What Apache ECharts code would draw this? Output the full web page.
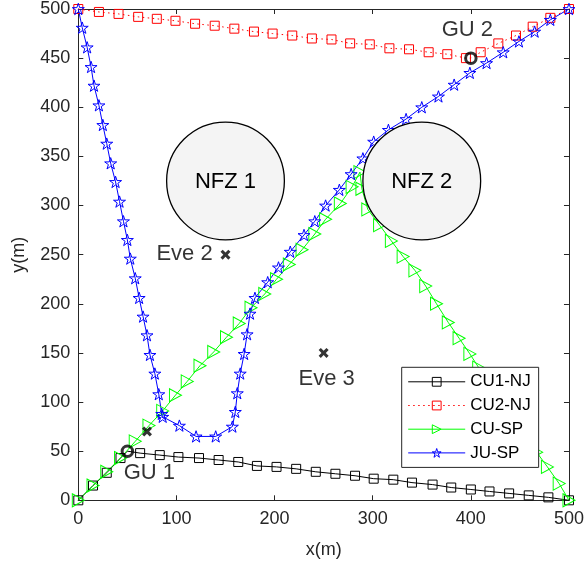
<!DOCTYPE html>
<html>
<head>
<meta charset="utf-8">
<script src="https://cdn.jsdelivr.net/npm/echarts@6/dist/echarts.min.js"></script>
<style>html,body{margin:0;padding:0;background:#fff;}#c{width:587px;height:567px;}</style>
</head>
<body>
<div id="c"></div>
<script>
// ---- data ----
var xTicks = [0, 100, 200, 300, 400, 500];
var yTicks = [0, 50, 100, 150, 200, 250, 300, 350, 400, 450, 500];

var cu1X = [0,15,29,43,50,63,83,102,123,143,163,182,202,222,242,262,282,301,321,340,361,380,400,419,439,459,479,500];
var cu1Y = [0,15,28,43,50,48,46,44,43,41,39,35,34,32,29,27,25,22,21,18,16,13,11,9,7,5,3,0];

var cu2X = [0,21,41,61,80,99,119,139,159,179,198,218,238,258,277,297,317,337,357,376,395,400,410,428,446,463,481,500];
var cu2Y = [500,497,495,492,490,488,485,483,480,477,475,473,470,469,465,464,460,459,456,454,450,450,456,465,473,482,491,500];

var cuspX = [0,15,29,43,58,72,86,99,111,124,138,151,164,176,190,202,215,228,241,252,267,279,287,289,295,307,319,331,343,354,365,377,388,399,408,420,432,444,456,467,478,490,500];
var cuspY = [0,15,29,43,60,76,91,107,121,137,151,166,180,196,210,225,240,255,271,286,302,319,334,317,296,280,264,248,234,218,200,181,165,149,135,118,101,84,66,49,34,17,0];

var juX = [0,4,9,13,16,21,25,29,33,38,42,46,50,53,58,62,66,70,73,78,82,85,86,103,120,140,157,160,162,165,169,172,175,180,193,204,216,230,241,252,266,278,290,301,316,334,350,367,383,399,416,433,449,465,481,500];
var juY = [500,481,461,441,422,402,382,363,343,324,304,284,265,246,226,206,187,168,148,129,108,88,85,76,65,65,75,90,109,129,149,169,190,206,222,237,253,270,284,300,316,332,348,365,377,388,400,411,423,435,445,456,467,477,489,500];

var nfzX = [150, 350];
var nfzY = [325, 325];
var nfzR = [60, 60];
var nfzNames = ['NFZ 1', 'NFZ 2'];

var guX = [50, 400];
var guY = [50, 450];
var guNames = ['GU 1', 'GU 2'];

var eveX = [70, 150, 250];
var eveY = [70, 250, 150];
var eveNames = ['', 'Eve 2', 'Eve 3'];

var seriesNames = ['CU1-NJ', 'CU2-NJ', 'CU-SP', 'JU-SP'];

// ---- styling ----
var FONT = '"Liberation Sans", Arial, Helvetica, sans-serif';
var AX = '#262626';
var SQUARE = 'path://M0,0 L10,0 L10,10 L0,10 Z';
var TRI = 'path://M0,0 L10,5 L0,10 Z';
var STAR = 'path://M50,0 L61.2,34.5 L97.6,34.5 L68.2,55.9 L79.4,90.5 L50,69.1 L20.6,90.5 L31.8,55.9 L2.4,34.5 L38.8,34.5 Z';
var XMARK = 'path://M0,2.2 L2.2,0 L5,2.8 L7.8,0 L10,2.2 L7.2,5 L10,7.8 L7.8,10 L5,7.2 L2.2,10 L0,7.8 L2.8,5 Z';
var colors = ['#000000', '#ff0000', '#00ff00', '#0000ff'];
var symbols = [SQUARE, SQUARE, TRI, STAR];
var dashes = ['solid', [1.5, 3.5], 'solid', 'solid'];

function pts(xs, ys) {
  return xs.map(function (x, i) {
    var d = { value: [x, ys[i]] };
    for (var k = 0; k < guX.length; k++) {
      if (x === guX[k] && ys[i] === guY[k]) d.symbol = 'none';
    }
    return d;
  });
}

function lineSeries(idx, xs, ys, size) {
  var color = colors[idx];
  return {
    name: seriesNames[idx], type: 'line', data: pts(xs, ys),
    symbol: symbols[idx], symbolSize: size, symbolKeepAspect: true,
    showAllSymbol: true, animation: false, z: 3,
    lineStyle: { color: color, width: 1, type: dashes[idx] },
    itemStyle: { color: 'rgba(0,0,0,0)', borderColor: color, borderWidth: 1 },
    emphasis: { disabled: true }
  };
}

var chart = echarts.init(document.getElementById('c'), null, { renderer: 'canvas' });

function axisCommon(extra) {
  var a = {
    type: 'value', min: 0, max: 500,
    axisLine: { show: true, onZero: false, lineStyle: { color: AX, width: 1 } },
    axisTick: { show: true, inside: true, length: 5, lineStyle: { color: AX, width: 1 } },
    splitLine: { show: false },
    axisLabel: { show: false }
  };
  for (var k in extra) a[k] = extra[k];
  return a;
}

var option = {
  backgroundColor: '#fff',
  animation: false,
  textStyle: { fontFamily: FONT },
  grid: { left: 78.3, right: 12.7, top: 5.7, bottom: 66.7, containLabel: false },
  xAxis: [
    axisCommon({ position: 'bottom', interval: 100,
      axisLabel: { show: true, fontSize: 18, color: AX, fontFamily: FONT, margin: 10,
        formatter: function (v) { return xTicks.indexOf(v) >= 0 ? String(v) : ''; } },
      name: 'x(m)', nameLocation: 'middle', nameGap: 41,
      nameTextStyle: { fontSize: 18, color: AX, fontFamily: FONT } }),
    axisCommon({ position: 'top', interval: 100 })
  ],
  yAxis: [
    axisCommon({ position: 'left', interval: 50,
      axisLabel: { show: true, fontSize: 18, color: AX, fontFamily: FONT, margin: 8,
        formatter: function (v) { return yTicks.indexOf(v) >= 0 ? String(v) : ''; } },
      name: 'y(m)', nameLocation: 'middle', nameGap: 50,
      nameTextStyle: { fontSize: 18, color: AX, fontFamily: FONT } }),
    axisCommon({ position: 'right', interval: 50 })
  ],
  legend: {
    orient: 'vertical', left: 401.7, top: 367.3,
    padding: [6, 8, 6, 6], itemGap: 6.7, itemWidth: 57, itemHeight: 11,
    backgroundColor: '#fff', borderColor: AX, borderWidth: 1, borderRadius: 0,
    textStyle: { fontSize: 17, color: '#000', fontFamily: FONT },
    data: seriesNames.map(function (n, i) {
      return { name: n,
        itemStyle: { color: 'rgba(0,0,0,0)', borderColor: colors[i], borderWidth: 1 },
        lineStyle: { color: colors[i], width: 1, type: dashes[i] } };
    }),
    selectedMode: false, z: 10
  },
  series: [
    lineSeries(0, cu1X, cu1Y, 9),
    lineSeries(1, cu2X, cu2Y, 9),
    lineSeries(2, cuspX, cuspY, [12, 13]),
    lineSeries(3, juX, juY, 12),
    {
      type: 'custom', name: 'nfz', z: 5, animation: false, silent: true,
      data: nfzX.map(function (x, i) { return [x, nfzY[i], nfzR[i]]; }),
      encode: { x: 0, y: 1 },
      renderItem: function (params, api) {
        var c = api.coord([api.value(0), api.value(1)]);
        var r = api.size([api.value(2), 0])[0];
        return {
          type: 'group',
          children: [
            { type: 'circle', shape: { cx: c[0], cy: c[1], r: r },
              style: { fill: '#f4f4f4', stroke: '#000', lineWidth: 1.3 } },
            { type: 'text', x: c[0], y: c[1] + 1,
              style: { text: nfzNames[params.dataIndex], fontSize: 22, fontFamily: FONT,
                fill: '#000', align: 'center', verticalAlign: 'middle' } }
          ]
        };
      }
    },
    {
      type: 'scatter', name: 'eve', z: 6, animation: false, silent: true,
      symbol: XMARK, symbolSize: 10,
      itemStyle: { color: '#000' },
      data: eveX.map(function (x, i) {
        var offs = [[0, 0], [-41, -1], [3, 26]];
        return { value: [x, eveY[i]],
          label: { show: eveNames[i] !== '', formatter: eveNames[i], position: 'inside',
            offset: offs[i], fontSize: 22, color: '#000', fontFamily: FONT } };
      })
    },
    {
      type: 'scatter', name: 'gu', z: 7, animation: false, silent: true,
      symbol: 'circle', symbolSize: 10.5,
      itemStyle: { color: 'rgba(0,0,0,0)', borderColor: '#000', borderWidth: 3 },
      data: guX.map(function (x, i) {
        var offs = [[22, 22], [-3.5, -28]];
        return { value: [x, guY[i]],
          label: { show: true, formatter: guNames[i], position: 'inside',
            offset: offs[i], fontSize: 22, color: '#000', fontFamily: FONT } };
      })
    }
  ]
};
chart.setOption(option);
</script>
</body>
</html>
